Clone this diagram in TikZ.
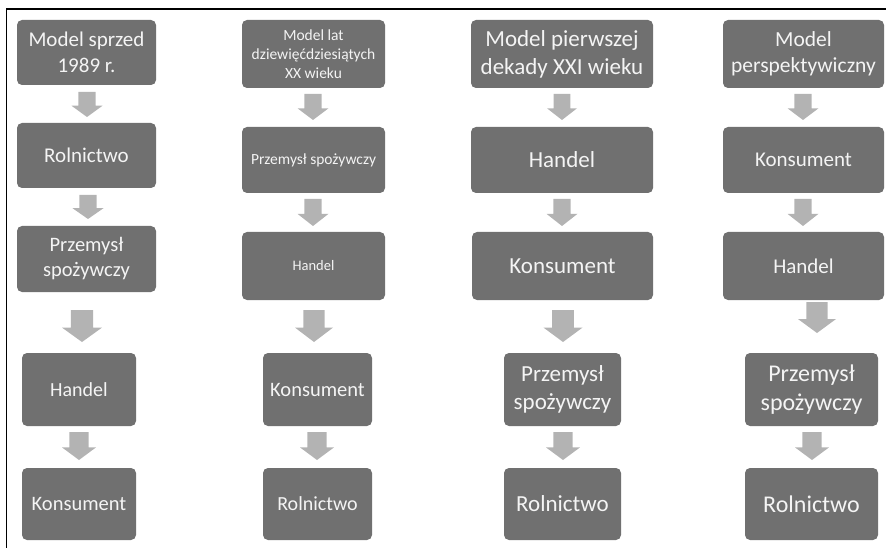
\documentclass[tikz,border=0pt]{standalone}
\usepackage{fontspec}
\setmainfont{Carlito}
\usetikzlibrary{calc}
\definecolor{boxgray}{HTML}{707070}
\definecolor{arrowgray}{HTML}{B3B3B3}
\definecolor{labelwhite}{HTML}{F4F4F4}
\tikzset{
  stagebox/.style={draw=none, fill=boxgray, rounded corners=5pt, text=labelwhite,
    align=center, inner sep=0pt, anchor=center},
  flowarrow/.style={fill=arrowgray, draw=none},
  frameline/.style={draw=black, line width=1.4pt}
}
% \stage{name}{x1}{y1}{x2}{y2}{font size}{text}
\newcommand\stage[7]{%
  \node[stagebox, minimum width={(#4)-(#2)}, minimum height={(#5)-(#3)},
        font=\fontsize{#6}{\fpeval{1.22*#6}}\selectfont]
    (#1) at ({((#2)+(#4))/2},{((#3)+(#5))/2}) {#7};}
% \blockdown{name}{centre x}{top y}{bottom y}{head width}
\newcommand\blockdown[5]{%
  \coordinate (#1) at (#2,#3);
  \fill[flowarrow] ($(#1)+({-0.28*(#5)},0)$) -- ($(#1)+({0.28*(#5)},0)$)
    -- ($(#1)+({0.28*(#5)},{0.55*((#4)-(#3))})$)
    -- ($(#1)+({0.5*(#5)},{0.55*((#4)-(#3))})$)
    -- ($(#1)+(0,{(#4)-(#3)})$)
    -- ($(#1)+({-0.5*(#5)},{0.55*((#4)-(#3))})$)
    -- ($(#1)+({-0.28*(#5)},{0.55*((#4)-(#3))})$) -- cycle;}
\begin{document}
\begin{tikzpicture}[x=1pt,y=-1pt]
\useasboundingbox (0,0) rectangle (886,548);
\draw[frameline] (6.5,548) -- (6.5,9) -- (886,9);

% column 1
\stage{a1}{17}{20}{156}{85}{21}{Model sprzed\\1989 r.}
\stage{a2}{17}{123}{156}{188}{21}{Rolnictwo}
\stage{a3}{17}{226}{156}{292}{20.5}{Przemysł\\spożywczy}
\stage{a4}{22}{353}{136}{426}{20}{Handel}
\stage{a5}{22}{468}{136}{540}{20.5}{Konsument}
\blockdown{a12}{87}{92}{117}{31}
\blockdown{a23}{88}{195}{219}{31}
\blockdown{a34}{82}{310}{342}{40}
\blockdown{a45}{79}{432}{460}{34}

% column 2
\stage{b1}{242}{20}{385}{88}{15.5}{Model lat\\dziewięćdziesiątych\\XX wieku}
\stage{b2}{242}{127}{385}{193}{15.5}{Przemysł spożywczy}
\stage{b3}{242}{232}{385}{300}{14.5}{Handel}
\stage{b4}{263}{353}{372}{426}{20.5}{Konsument}
\stage{b5}{263}{468}{372}{540}{20}{Rolnictwo}
\blockdown{b12}{313}{94}{120}{31}
\blockdown{b23}{313}{199}{226}{31}
\blockdown{b34}{314}{310}{342}{38}
\blockdown{b45}{317}{432}{460}{34}

% column 3
\stage{c1}{471}{20}{653}{88}{23}{Model pierwszej\\dekady XXI wieku}
\stage{c2}{471}{127}{653}{193}{23}{Handel}
\stage{c3}{472}{232}{653}{300}{23}{Konsument}
\stage{c4}{504}{353}{621}{426}{23}{Przemysł\\spożywczy}
\stage{c5}{504}{468}{621}{540}{23}{Rolnictwo}
\blockdown{c12}{562}{94}{120}{30}
\blockdown{c23}{562}{199}{226}{31}
\blockdown{c34}{563}{310}{342}{39}
\blockdown{c45}{563}{432}{460}{34}

% column 4
\stage{d1}{723}{20}{884}{88}{21.5}{Model\\perspektywiczny}
\stage{d2}{723}{127}{884}{193}{21}{Konsument}
\stage{d3}{723}{232}{884}{300}{21}{Handel}
\stage{d4}{745}{353}{878}{426}{24}{Przemysł\\spożywczy}
\stage{d5}{745}{468}{878}{540}{24}{Rolnictwo}
\blockdown{d12}{803}{94}{120}{31}
\blockdown{d23}{803}{199}{226}{31}
\blockdown{d34}{817}{302}{333}{38}
\blockdown{d45}{812}{432}{460}{34}
\end{tikzpicture}
\end{document}
